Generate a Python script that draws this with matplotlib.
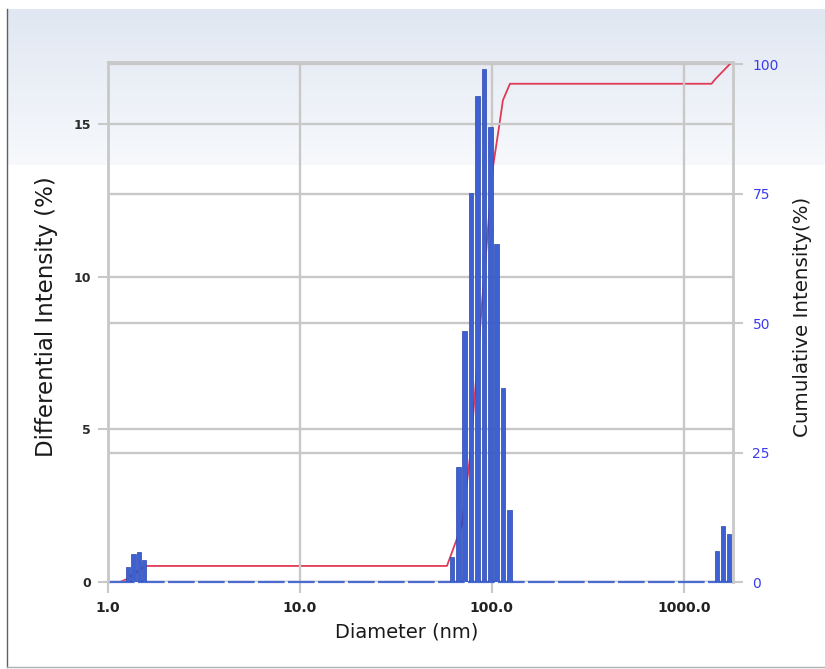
# Modules
import numpy as np
import matplotlib.pyplot as plt
from matplotlib.ticker import FixedLocator, NullLocator, FixedFormatter

# Data
## Differential intensity bars: diameter (nm) / intensity (%)
small_diam = [1.28, 1.37, 1.46, 1.55]
small_int = [0.50, 0.92, 0.97, 0.72]
main_diam = [62.1, 67.0, 72.3, 78.0, 84.2, 90.9, 98.1, 105.9, 114.3, 123.4]
main_int = [0.83, 3.78, 8.22, 12.73, 15.92, 16.80, 14.91, 11.07, 6.36, 2.35]
large_diam = [1483, 1597, 1713]
large_int = [1.00, 1.83, 1.58]

## Cumulative intensity curve
cum_diam = [1.0, 1.16, 1.25, 1.57, 58.4, 61.3, 69.9, 76.9, 87.7, 101.3,
            110.2, 114.2, 124.3, 1392, 1448, 1733]
cum_int = [0.0, 0.0, 0.5, 3.1, 3.1, 5.2, 11.0, 24.0, 51.0, 80.0,
           89.0, 93.0, 96.2, 96.2, 97.0, 100.0]

## Axes
x_ticks = [1, 10, 100, 1000]
x_ticklabels = ['1.0', '10.0', '100.0', '1000.0']
left_ticks = [0, 5, 10, 15]
right_ticks = [0, 25, 50, 75, 100]

# Style
grid_c = '#c8c8c8'
bar_c = '#3d61d2'
bar_edge = '#2a47ad'
line_c = '#e03a55'
blue_txt = '#3b3bef'

# Figure
W, H = 825, 669
fig = plt.figure(figsize=(W / 100, H / 100), dpi=100)
plt.rcParams['font.family'] = ['DejaVu Sans']

## Background panel with a light header gradient
bg = fig.add_axes([0, 0, 1, 1], zorder=-5)
bg.set_xlim(0, W)
bg.set_ylim(H, 0)
bg.axis('off')
t = np.linspace(0, 1, 256)[:, None]
top = np.array([224, 231, 242]) / 255
bot = np.array([247, 249, 252]) / 255
grad = (top[None, :] * (1 - t) + bot[None, :] * t)[:, None, :]
bg.imshow(grad, extent=[7, W, 165, 9], aspect='auto', interpolation='bilinear')
bg.plot([7, 7], [9, 667], color='#606060', lw=1.0)
bg.plot([7, W], [667, 667], color='#b0b0b0', lw=1.0)

## Plot axes
ax = fig.add_axes([107.5 / W, 1 - 582 / H, (733 - 107.5) / W, (582 - 62) / H])
ax2 = ax.twinx()
ax.set_zorder(ax2.get_zorder() + 1)
ax.patch.set_visible(False)

ax.set_xscale('log')
ax.set_xlim(1, 1800)
ax.set_ylim(0, 17.03)
ax2.set_ylim(0, 100.4)

# Bars (log-spaced width)
h = 0.012
diam = np.array(small_diam + main_diam + large_diam, dtype=float)
inten = small_int + main_int + large_int
ax.bar(diam * 10 ** -h, inten, width=diam * (10 ** h - 10 ** -h), align='edge',
       color=bar_c, edgecolor=bar_edge, linewidth=0.5, zorder=3)

# Zero baseline
ax.axhline(0, color='#4a6bd0', lw=1.6, dashes=(12, 1.5), zorder=2, clip_on=False)

# Cumulative curve
ax2.plot(cum_diam, cum_int, color=line_c, lw=1.3, zorder=2)

# Grid
ax.set_axisbelow(True)
ax.xaxis.set_major_locator(FixedLocator(x_ticks))
ax.xaxis.set_major_formatter(FixedFormatter(x_ticklabels))
ax.xaxis.set_minor_locator(NullLocator())
ax.yaxis.set_major_locator(FixedLocator(left_ticks))
ax2.yaxis.set_major_locator(FixedLocator(right_ticks))
ax.grid(True, color=grid_c, lw=1.7)
ax2.grid(True, axis='y', color=grid_c, lw=1.7)

# Spines
for s in ['left', 'top', 'right']:
    ax.spines[s].set_color(grid_c)
    ax.spines[s].set_linewidth(2.0)
ax.spines['bottom'].set_visible(False)
for s in ax2.spines.values():
    s.set_visible(False)

# Ticks
ax.tick_params(axis='x', length=8, width=1.5, color=grid_c, pad=6,
               labelsize=10, labelcolor='#222222')
ax.tick_params(axis='y', length=7, width=1.5, color=grid_c, pad=5,
               labelsize=9, labelcolor='#2b2b2b')
ax2.tick_params(axis='y', length=7, width=1.5, color=grid_c, pad=7,
                labelsize=10, labelcolor=blue_txt)
for lbl in ax.get_xticklabels() + ax.get_yticklabels():
    lbl.set_fontweight('bold')

# Labels
ax.set_ylabel('Differential Intensity (%)', fontsize=16.5, color='#1a1a1a')
ax.yaxis.set_label_coords(-0.079, 0.51)
ax2.set_ylabel('Cumulative Intensity(%)', fontsize=14.3, color='#1a1a1a')
ax2.yaxis.set_label_coords(1.096, 0.51)
ax.set_xlabel('Diameter (nm)', fontsize=14, color='#1a1a1a')
ax.xaxis.set_label_coords(0.479, -0.077)

plt.savefig('out.png', dpi=100)
